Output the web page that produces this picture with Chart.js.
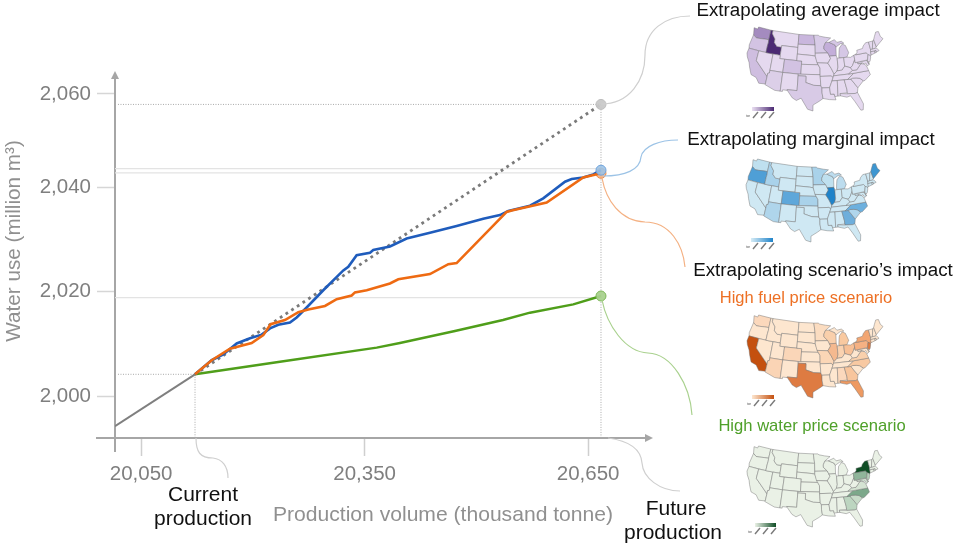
<!DOCTYPE html>
<html><head><meta charset="utf-8">
<style>html,body{margin:0;padding:0;background:#fff}canvas{display:block}</style>
<script src="https://cdn.jsdelivr.net/npm/chart.js@4"></script>
</head><body><canvas id="c" width="957" height="548"></canvas>
<script>
// ---- chart data ----
const xTickValues=[20050,20350,20650];
const xTickLabels=['20,050','20,350','20,650'];
// the reference draws its top tick slightly closer than the others
const yTickValues=[2000,2020,2040,2057.9];
const yTickLabels=['2,000','2,020','2,040','2,060'];
const currentX=20122.4, currentY=2004.2, futureX=20667.2;
const baseX=[20015,20122.4];
const baseY=[1994.25,2004.2];
const averageX=[20122.4,20667.2];
const averageY=[2004.2,2055.9];
const marginalX=[20122.4,20144.8,20160.3,20178.3,20196.2,20211.9,20223,20234.1,20249.8,20258.8,20272.2,20294.5,20321.4,20328.1,20339.3,20357.2,20361.6,20384,20406.4,20437.7,20473.5,20509.2,20531.6,20542.8,20571.9,20589.7,20618.9,20627.9,20643.4,20656.8,20667.2];
const marginalY=[2004.2,2006.9,2008,2010.1,2011.1,2011.8,2013,2013.7,2014.1,2015.1,2017,2020.3,2024.1,2024.8,2027,2027.5,2028,2028.7,2030.2,2031.3,2032.6,2034,2034.7,2035.5,2036.5,2037.9,2041.1,2041.6,2041.9,2042.5,2043.3];
const fuelX=[20122.4,20144.8,20169.3,20198.4,20214,20223.9,20243.1,20261,20274.4,20296.8,20312.5,20332.6,20337,20352.8,20384,20395.2,20437.7,20462.3,20473.5,20540.6,20547.3,20594.3,20643.4,20667.2];
const fuelY=[2004.2,2006.9,2009.1,2010.2,2011.7,2013.8,2014.6,2016.1,2016.6,2017.3,2018.6,2019.3,2019.9,2020.3,2021.6,2022.4,2023.4,2025.3,2025.5,2035.3,2035.6,2037.1,2041.9,2042.7];
const waterX=[20122.4,20236.4,20366.2,20397.4,20471.2,20535.7,20571.9,20630,20667.2];
const waterY=[2004.2,2006.6,2009.3,2010.2,2012.5,2014.6,2016,2017.6,2019.2];
const refMarginalY=2043.6, refFuelY=2042.8, refWaterY=2018.9;
const xRange=[20015,20737], yRange=[1992,2062.3];

// ---- inset map data: simplified state outlines as lon/lat ----
const states={
WA:[[-124.7,48.4],[-123,48.3],[-122.8,49],[-117,49],[-117,46],[-119,45.9],[-121,45.7],[-122.5,45.6],[-124,46.3]],
OR:[[-124,46.3],[-122.5,45.6],[-121,45.7],[-119,45.9],[-117,46],[-116.9,45],[-117,44.2],[-117,42],[-124.2,42],[-124.5,43]],
CA:[[-124.2,42],[-120,42],[-120,39],[-114.6,35],[-114.7,32.7],[-117.1,32.5],[-118.5,34],[-120.6,34.5],[-121.9,36.6],[-122.5,37.8],[-123.8,39.3],[-124.4,40.4]],
NV:[[-120,42],[-114,42],[-114,36.2],[-114.6,36],[-114.6,35],[-120,39]],
ID:[[-117,49],[-116,49],[-116,48],[-114.4,46.6],[-114.4,45.5],[-113,44.5],[-111,44.5],[-111,42],[-117,42],[-117,44.2],[-116.9,45],[-117,46]],
MT:[[-116,49],[-104,49],[-104,45],[-111,45],[-111,44.5],[-113,44.5],[-114.4,45.5],[-114.4,46.6],[-116,48]],
WY:[[-111,45],[-104,45],[-104,41],[-111,41]],
UT:[[-114,42],[-111,42],[-111,41],[-109,41],[-109,37],[-114,37]],
CO:[[-109,41],[-102,41],[-102,37],[-109,37]],
AZ:[[-114,37],[-109,37],[-109,31.3],[-111,31.3],[-114.8,32.5],[-114.7,32.7],[-114.6,35],[-114.6,36],[-114,36.2]],
NM:[[-109,37],[-103,37],[-103,32],[-106.6,32],[-106.5,31.8],[-108.2,31.8],[-108.2,31.3],[-109,31.3]],
ND:[[-104,49],[-97.2,49],[-96.6,46],[-104,46]],
SD:[[-104,46],[-96.6,46],[-96.5,42.6],[-98,42.8],[-104,43]],
NE:[[-104,43],[-98,42.8],[-96.5,42.6],[-95.3,40],[-102,40],[-102,41],[-104,41]],
KS:[[-102,40],[-95.3,40],[-94.6,39],[-94.6,37],[-102,37]],
OK:[[-103,37],[-94.6,37],[-94.4,33.7],[-97,33.8],[-100,34.6],[-100,36.5],[-103,36.5]],
TX:[[-103,36.5],[-100,36.5],[-100,34.6],[-97,33.8],[-94.4,33.7],[-94,33],[-94,31.5],[-93.7,29.8],[-95,29],[-97.2,27.8],[-97.2,26],[-99,26.5],[-101.4,29.8],[-103,29],[-104.5,29.7],[-106.5,31.8],[-106.6,32],[-103,32]],
MN:[[-97.2,49],[-95.2,49],[-94.6,48.7],[-92,48.3],[-89.6,48],[-92,46.7],[-92.8,45.5],[-92.8,44.7],[-91.2,43.5],[-96.5,43.5],[-96.6,46]],
IA:[[-96.5,43.5],[-91.2,43.5],[-90.2,41.8],[-91.4,40.4],[-95.8,40.6],[-96.5,42.6]],
MO:[[-95.8,40.6],[-91.4,40.4],[-90.2,38.8],[-89.2,37],[-89.7,36],[-90.4,36.5],[-94.6,36.5],[-94.6,39],[-95.3,40]],
AR:[[-94.6,36.5],[-90.4,36.5],[-89.7,36],[-91.2,33],[-94,33],[-94.4,33.7]],
LA:[[-94,33],[-91.2,33],[-91,31],[-89.7,31],[-89.5,30.2],[-89.2,29.2],[-91.5,29.4],[-93.7,29.8],[-94,31.5]],
WI:[[-92,46.7],[-90.5,46.7],[-88,45.8],[-87.6,45.1],[-87.8,42.5],[-90.6,42.5],[-91.2,43.5],[-92.8,44.7],[-92.8,45.5]],
IL:[[-90.6,42.5],[-87.8,42.5],[-87.5,41.7],[-87.5,39],[-88,37.9],[-89.2,37],[-90.2,38.8],[-91.4,40.4],[-90.2,41.8]],
MI:[[-86.8,41.8],[-84.8,41.7],[-83.5,41.7],[-82.5,43],[-82.9,44],[-83.5,45.3],[-84.8,45.8],[-86.2,44.7],[-86.5,43.5]],
MU:[[-90.5,46.7],[-88,47.4],[-87,46.5],[-85,46.7],[-84,46],[-85.5,46],[-87.6,45.1],[-88,45.8]],
IN:[[-87.5,41.7],[-84.8,41.7],[-84.8,39.1],[-86,38],[-88,37.9],[-87.5,39]],
OH:[[-84.8,41.7],[-83.5,41.7],[-82,41.5],[-80.5,42],[-80.5,40.6],[-81.7,39],[-82.6,38.4],[-84.8,39.1]],
KY:[[-89.2,37],[-88,37.9],[-86,38],[-84.8,39.1],[-82.6,38.4],[-82,37.5],[-83.7,36.6],[-89.5,36.5]],
TN:[[-89.7,36],[-89.5,36.5],[-83.7,36.6],[-81.7,36.6],[-84.3,35],[-90.2,35]],
MS:[[-90.2,35],[-88.2,35],[-88.4,30.3],[-89.5,30.2],[-89.7,31],[-91,31],[-91.2,33]],
AL:[[-88.2,35],[-85.6,35],[-85,32],[-85,31],[-87.6,31],[-87.5,30.3],[-88.4,30.3]],
GA:[[-85.6,35],[-83.1,35],[-81,32.1],[-81.4,30.7],[-82.2,30.5],[-85,30.7],[-85,32]],
FL:[[-87.6,31],[-85,30.7],[-82.2,30.5],[-81.4,30.7],[-80,27],[-80.4,25.2],[-81.2,25.2],[-82.7,28],[-84,30],[-85.3,29.7],[-87.5,30.3]],
SC:[[-83.1,35],[-82.4,35.2],[-81,35.1],[-79.7,34.8],[-78.6,33.9],[-81,32.1]],
NC:[[-84.3,35],[-81.7,36.6],[-75.9,36.6],[-75.6,35.3],[-78,33.9],[-78.6,33.9],[-79.7,34.8],[-81,35.1],[-82.4,35.2],[-83.1,35]],
VA:[[-83.7,36.6],[-82,37.5],[-80.3,37.5],[-78.4,39.1],[-77,38.8],[-76.3,38],[-76,37],[-75.9,36.6],[-81.7,36.6]],
WV:[[-82.6,38.4],[-81.7,39],[-80.5,40.6],[-80.5,39.7],[-79.5,39.7],[-79.5,39.2],[-77.8,39.3],[-78.4,39.1],[-80.3,37.5],[-82,37.5]],
MD:[[-79.5,39.7],[-75.8,39.7],[-75.2,38.4],[-76,38],[-76.4,39],[-77,38.8],[-77.8,39.3],[-79.5,39.2]],
DE:[[-75.8,39.7],[-75.5,39.7],[-75.1,38.5],[-75.2,38.4]],
PA:[[-80.5,42],[-79.8,42.2],[-79.8,42],[-75.3,42],[-74.8,41.3],[-75.5,39.8],[-80.5,39.7],[-80.5,40.6]],
NY:[[-79.8,42],[-79,42.7],[-79,43.3],[-76.5,43.5],[-76,44.2],[-74.7,45],[-73.4,45],[-73.3,42.7],[-73.5,41.2],[-74,40.7],[-74.8,41.3],[-75.3,42]],
NJ:[[-74.8,41.3],[-74,41],[-74,40.4],[-74.5,39.4],[-75,39],[-75.5,39.6]],
CT:[[-73.5,42],[-71.8,42],[-71.8,41.3],[-73.6,41]],
RI:[[-71.8,42],[-71.2,42],[-71.2,41.4],[-71.8,41.3]],
MA:[[-73.3,42.7],[-71.3,42.7],[-70.7,42.6],[-70,41.7],[-71.2,41.5],[-71.2,42],[-73.5,42]],
VT:[[-73.4,45],[-71.5,45],[-72.5,42.7],[-73.3,42.7]],
NH:[[-71.5,45],[-71,45.3],[-70.7,43],[-71.3,42.7],[-72.5,42.7]],
ME:[[-71,45.3],[-70.3,46.2],[-69.2,47.4],[-68,47.3],[-67.8,45.7],[-67,44.8],[-70.7,43]]
};
const purpleMap={base:'#e5d9ef',WA:'#a48bbf',ID:'#4b2a73',OR:'#d3c3e3',CA:'#cfbee0',AZ:'#dccfe8',TX:'#d8cae6',CO:'#d2c2e2',ND:'#c9b6dd',MN:'#d8cbe7',WI:'#c3aed9',MI:'#d5c7e5',MU:'#d5c7e5'};
const blueMap={base:'#cfe8f3',OR:'#4f9fd6',ID:'#a9d2ea',MN:'#a9d2ea',WI:'#bfe0ef',MI:'#bcdcee',MU:'#bcdcee',IL:'#1f83c9',CO:'#5ea7da',KS:'#a9d2ea',AZ:'#afd5eb',WA:'#bfe0ef',NC:'#6db0de',GA:'#6eaedb',SC:'#b0d6ec',ME:'#3d96d1'};
const orangeMap={base:'#fde6cf',CA:'#c4500f',TX:'#de7b42',FL:'#ee9a62',NY:'#f2a673',PA:'#f5b183',OH:'#f8c096',IL:'#f5b98f',WI:'#f9cfab',MI:'#f9c9a0',IN:'#fad2b0',VA:'#f9d0ac',NC:'#f8c9a2',GA:'#f8c59c',CO:'#fad6b8',AZ:'#fad4b5',WA:'#fbd8bc',NJ:'#e07b40',MO:'#fbd6b6',MN:'#fbdcc0',AL:'#fbd8bc'};
const greenMap={base:'#eaf1e6',NY:'#0f4d25',PA:'#8fb59a',NC:'#7ca88a',GA:'#bcd5c0',VA:'#d5e3d3',SC:'#c7dbc8',MD:'#d0dfd0',NJ:'#b5cfba'};

// ---- helpers ----
const pts=(xs,ys)=>xs.map((x,i)=>({x,y:ys[i]}));
const line=(xs,ys,color,width,order,extra)=>Object.assign({data:pts(xs,ys),showLine:true,borderColor:color,borderWidth:width,pointRadius:0,tension:0,order,fill:false},extra||{});
const dot=(x,y,fill,border,order)=>({data:[{x,y}],showLine:false,pointRadius:5,pointBackgroundColor:fill,pointBorderColor:border,pointBorderWidth:1,order});
function albers(lon,lat){const r=Math.PI/180,p1=29.5*r,p2=45.5*r,n=(Math.sin(p1)+Math.sin(p2))/2,C=Math.cos(p1)**2+2*n*Math.sin(p1),p0=37.5*r;
 const th=n*(lon+96)*r,rho=Math.sqrt(C-2*n*Math.sin(lat*r))/n,rho0=Math.sqrt(C-2*n*Math.sin(p0))/n;
 return [rho*Math.sin(th),-(rho0-rho*Math.cos(th))];}
const projected=Object.fromEntries(Object.entries(states).map(([k,v])=>[k,v.map(p=>albers(p[0],p[1]))]));
const all=Object.values(projected).flat();
const bx=[Math.min(...all.map(p=>p[0])),Math.max(...all.map(p=>p[0]))],by=[Math.min(...all.map(p=>p[1])),Math.max(...all.map(p=>p[1]))];

const insets=[
 {map:purpleMap,box:[747,27,883,111],bar:[752,107,22,4],c:['#eadff2','#4b2a73'],tick:[751,113]},
 {map:blueMap,box:[746,159,880,242],bar:[751,238,22,4],c:['#d6ecf6','#1f83c9'],tick:[751,244]},
 {map:orangeMap,box:[747,315,883,398],bar:[752,395,22,4],c:['#fde6cf','#c4500f'],tick:[752,401]},
 {map:greenMap,box:[747,446,882,527],bar:[755,523,21,4],c:['#eaf1e6','#0f4d25'],tick:[753,529]}
];
function drawInset(ctx,ins){
 const [x0,y0,x1,y1]=ins.box,sx=(x1-x0)/(bx[1]-bx[0]),sy=(y1-y0)/(by[1]-by[0]);
 ctx.lineWidth=.45;ctx.strokeStyle='#707070';ctx.lineJoin='round';
 for(const k in projected){ctx.beginPath();projected[k].forEach((p,i)=>{const X=x0+(p[0]-bx[0])*sx,Y=y0+(p[1]-by[0])*sy;i?ctx.lineTo(X,Y):ctx.moveTo(X,Y);});ctx.closePath();
  ctx.fillStyle=ins.map[k]||ins.map.base;ctx.fill();ctx.stroke();}
 const [bxx,byy,bw,bh]=ins.bar,g=ctx.createLinearGradient(bxx,0,bxx+bw,0);g.addColorStop(0,ins.c[0]);g.addColorStop(1,ins.c[1]);
 ctx.fillStyle=g;ctx.fillRect(bxx,byy,bw,bh);
 ctx.strokeStyle='#7a7a7a';ctx.lineWidth=1.4;
 for(let i=0;i<3;i++){const tx=ins.tick[0]+2+i*8;ctx.beginPath();ctx.moveTo(tx,ins.tick[1]+5);ctx.lineTo(tx+5,ins.tick[1]-1);ctx.stroke();}
 ctx.fillStyle='#555';ctx.font='3px "Liberation Sans"';ctx.textAlign='left';ctx.textBaseline='middle';ctx.fillText('ton',ins.tick[0]-5,ins.tick[1]+3);
}
const curves=[
 {c:'#cfcfcf',p:[601,104,630,104,645,80,645,55,645,30,665,16,690,16]},
 {c:'#9cc3e6',p:[603,176,625,176,640,170,641,157,643,146,660,140,678,140]},
 {c:'#f4b183',p:[602,178,606,200,620,221,645,222,670,222,683,245,685,267]},
 {c:'#a9d18e',p:[602,300,607,325,625,352,648,353,672,354,690,385,692,415]},
 {c:'#cfcfcf',p:[196,438,196,452,200,458,213,458,222,459,228,466,228,478]},
 {c:'#cfcfcf',p:[608,438,630,441,641,450,642,463,643,478,660,491,680,491]}
];
const labels=[
 ['Extrapolating average impact',818,11,18.8,'#111'],
 ['Extrapolating marginal impact',811,140,18.8,'#111'],
 ["Extrapolating scenario\u2019s impact",823,271,18.8,'#111'],
 ['High fuel price scenario',806,298,16.5,'#ed7024'],
 ['High water price scenario',812,426,16.6,'#4fa02a'],
 ['Current',203,495,21,'#111'],['production',203,519,21,'#111'],
 ['Future',676,509,21,'#111'],['production',673,533,21,'#111'],
 ['Production volume (thousand tonne)',443,515,21.1,'#909090']
];
const decor={id:'decor',
 beforeDatasetsDraw(ch){const c=ch.ctx,a=ch.chartArea;c.save();
  c.strokeStyle='#a6a6a6';c.fillStyle='#a6a6a6';c.lineWidth=2;
  c.beginPath();c.moveTo(a.left,452);c.lineTo(a.left,a.top+5);c.moveTo(96,a.bottom);c.lineTo(a.right-5,a.bottom);c.stroke();
  c.beginPath();c.moveTo(a.left,a.top);c.lineTo(a.left-4,a.top+8);c.lineTo(a.left+4,a.top+8);c.closePath();c.fill();
  c.beginPath();c.moveTo(a.right,a.bottom);c.lineTo(a.right-8,a.bottom-4);c.lineTo(a.right-8,a.bottom+4);c.closePath();c.fill();
  c.restore();},
 afterDraw(ch){const c=ch.ctx;c.save();
  c.lineWidth=1.2;curves.forEach(k=>{const p=k.p;c.strokeStyle=k.c;c.beginPath();c.moveTo(p[0],p[1]);c.bezierCurveTo(p[2],p[3],p[4],p[5],p[6],p[7]);c.bezierCurveTo(p[8],p[9],p[10],p[11],p[12],p[13]);c.stroke();});
  insets.forEach(i=>drawInset(c,i));
  c.textAlign='center';c.textBaseline='middle';
  labels.forEach(l=>{c.font=l[3]+'px "Liberation Sans"';c.fillStyle=l[4];c.fillText(l[0],l[1],l[2]);});
  c.save();c.translate(14,241);c.rotate(-Math.PI/2);c.font='20.7px "Liberation Sans"';c.fillStyle='#909090';c.fillText('Water use (million m\u00b3)',0,0);c.restore();
  c.restore();}
};
new Chart(document.getElementById('c'),{
 type:'scatter',
 data:{datasets:[
  dot(futureX,refMarginalY-0.3,'rgba(157,195,230,.9)','#6fa3dc',0),
  dot(futureX,refFuelY-0.1,'rgba(244,177,131,.9)','#ee8a45',6),
  dot(futureX,averageY[1],'rgba(200,200,200,.95)','#bdbdbd',0),
  dot(futureX,waterY[waterY.length-1],'rgba(169,209,142,.95)','#7fb85a',0),
  line(fuelX,fuelY,'#ee6a12',2.6,2),
  line(marginalX,marginalY,'#1f5cbc',2.6,3),
  line(waterX,waterY,'#4f9e1a',2.4,4),
  line(averageX,averageY,'#7a7a7a',2.8,5,{borderDash:[2.8,4]}),
  line(baseX,baseY,'#7f7f7f',2,5),
  line([xRange[0]+4,futureX],[averageY[1],averageY[1]],'#a8a8a8',1,9,{borderDash:[1,1.5]}),
  line([xRange[0],futureX],[refMarginalY,refMarginalY],'#e3e3e3',1.2,9),
  line([xRange[0],futureX],[refFuelY,refFuelY],'#e3e3e3',1.2,9),
  line([xRange[0],futureX],[refWaterY,refWaterY],'#e3e3e3',1.2,9),
  line([xRange[0]+4,currentX],[currentY,currentY],'#a8a8a8',1,9,{borderDash:[1,1.5]}),
  line([currentX,currentX],[currentY,yRange[0]],'#a8a8a8',1,9,{borderDash:[1,1.5]}),
  line([futureX,futureX],[averageY[1],yRange[0]],'#a8a8a8',1,9,{borderDash:[1,1.5]})
 ]},
 options:{responsive:false,animation:false,
  layout:{padding:{top:71,right:304,left:0,bottom:0}},
  plugins:{legend:{display:false},tooltip:{enabled:false},title:{display:false}},
  scales:{
   x:{type:'linear',min:xRange[0],max:xRange[1],
    afterBuildTicks:s=>{s.ticks=xTickValues.map(value=>({value}));},
    afterFit:s=>{s.height=110;},
    border:{display:false},
    grid:{drawOnChartArea:false,drawTicks:true,tickLength:18,tickColor:'#cfcfcf',tickWidth:1.5},
    ticks:{autoSkip:false,maxRotation:0,padding:6,color:'#7f7f7f',font:{family:'"Liberation Sans"',size:20.5},callback:(v,i)=>xTickLabels[i]}},
   y:{type:'linear',min:yRange[0],max:yRange[1],
    afterBuildTicks:s=>{s.ticks=yTickValues.map(value=>({value}));},
    afterFit:s=>{s.width=115;},
    border:{display:false},
    grid:{drawOnChartArea:false,drawTicks:true,tickLength:18,tickColor:'#d6d6d6',tickWidth:1.5},
    ticks:{autoSkip:false,padding:6,color:'#7f7f7f',font:{family:'"Liberation Sans"',size:20.5},callback:(v,i)=>yTickLabels[i]}}
  }},
 plugins:[decor]
});
</script></body></html>
